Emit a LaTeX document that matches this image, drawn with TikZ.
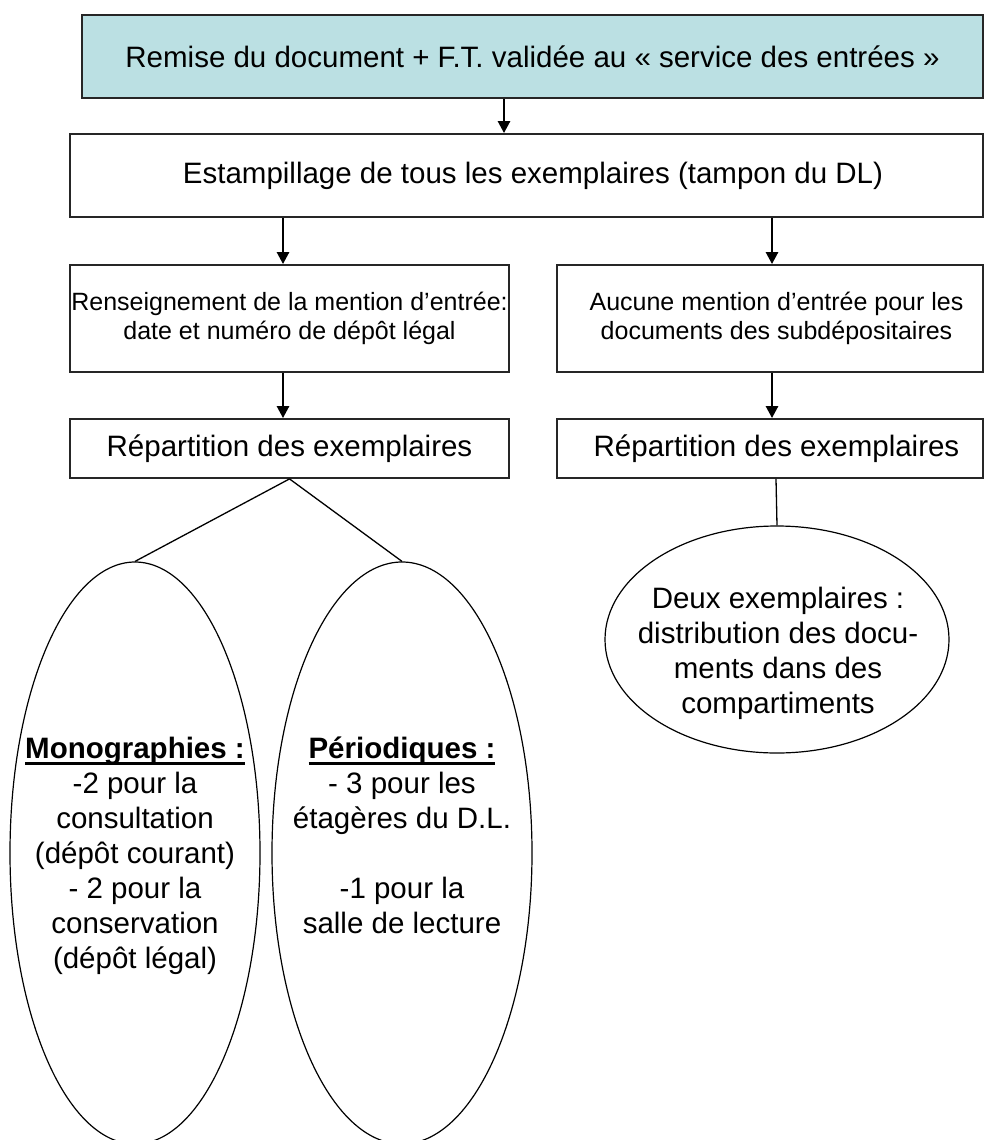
\documentclass[tikz,border=0pt]{standalone}
\usepackage{fontspec}
\setmainfont{Liberation Sans}
\usetikzlibrary{arrows.meta,shapes.geometric}
\definecolor{entree}{RGB}{187,224,227}
% bold heading with a flat underline drawn just under the baseline
\newcommand\ulbold[1]{\setbox0\hbox{\bfseries #1}\rlap{\rule[-6.5pt]{\wd0}{2.8pt}}\box0}
% small lead-in that nudges a centred line to the right
\newcommand\rs{\hspace*{13pt}}
\begin{document}
\begin{tikzpicture}[x=1pt,y=-1pt,
  big/.style={font=\fontsize{29.5}{34}\selectfont},
  mid/.style={font=\fontsize{25}{28.5}\selectfont},
  box/.style={draw=black!85, line width=1.8pt, rectangle, inner sep=0pt, align=center},
  arr/.style={line width=2.6pt, -{Triangle[width=12pt,length=12pt]}},
  link/.style={line width=1.3pt},
  oval/.style={draw, line width=1.2pt, ellipse, inner sep=0pt},
  ovaltext/.style={anchor=north, inner sep=0pt, align=center, font=\fontsize{29.5}{35}\selectfont}]

\useasboundingbox (0,0) rectangle (984,1140);
\clip (0,0) rectangle (984,1140);
\fill[white] (0,0) rectangle (984,1140);

% column guides for the arrows
\coordinate (cA) at (504,0);
\coordinate (cL) at (283,0);
\coordinate (cR) at (772,0);
\coordinate (cE) at (776,0);

% boxes
\node[box, big, fill=entree, minimum width=901pt, minimum height=83pt] (remise) at (532.5,56.5)
  {Remise du document + F.T. validée au « service des entrées »};
\node[box, big, minimum width=913pt, minimum height=83pt] (estamp) at (526.5,175.5)
  {\rs Estampillage de tous les exemplaires (tampon du DL)};
\node[box, mid, minimum width=439pt, minimum height=107pt] (renseign) at (289.5,318.5)
  {Renseignement de la mention d’entrée:\\date et numéro de dépôt légal};
\node[box, mid, minimum width=426pt, minimum height=107pt] (aucune) at (770,318.5)
  {\rs Aucune mention d’entrée pour les\\\rs documents des subdépositaires};
\node[box, big, minimum width=439pt, minimum height=59pt] (repA) at (289.5,448.5)
  {Répartition des exemplaires};
\node[box, big, minimum width=426pt, minimum height=59pt] (repB) at (770,448.5)
  {\rs Répartition des exemplaires};

% arrows
\draw[arr] (remise.south -| cA) -- (estamp.north -| cA);
\draw[arr] (estamp.south -| cL) -- (renseign.north -| cL);
\draw[arr] (estamp.south -| cR) -- (aucune.north -| cR);
\draw[arr] (renseign.south -| cL) -- (repA.north -| cL);
\draw[arr] (aucune.south -| cR) -- (repB.north -| cR);

% ovals
\node[oval, minimum width=250pt, minimum height=582pt] (mono) at (135,853) {};
\node[oval, minimum width=260pt, minimum height=582pt] (perio) at (402,853) {};
\node[oval, minimum width=344pt, minimum height=227pt] (deux) at (777,639.5) {};

\draw[link] (repA.south) -- (mono.north);
\draw[link] (repA.south) -- (perio.north);
\draw[link] (repB.south -| cE) -- (deux.north);

% oval texts
\node[ovaltext] (monotxt) at (135,733.5)
  {\strut\ulbold{Monographies :}\\-2 pour la\\consultation\\(dépôt courant)\\- 2 pour la\\conservation\\(dépôt légal)};
\node[ovaltext] (periotxt) at (402,733.5)
  {\strut\ulbold{Périodiques :}\\- 3 pour les\\étagères du D.L.\\[35pt]-1 pour la\\salle de lecture};
\node[ovaltext] (deuxtxt) at (778,583.5)
  {\strut Deux exemplaires :\\distribution des docu-\\ments dans des\\compartiments};
\end{tikzpicture}
\end{document}
